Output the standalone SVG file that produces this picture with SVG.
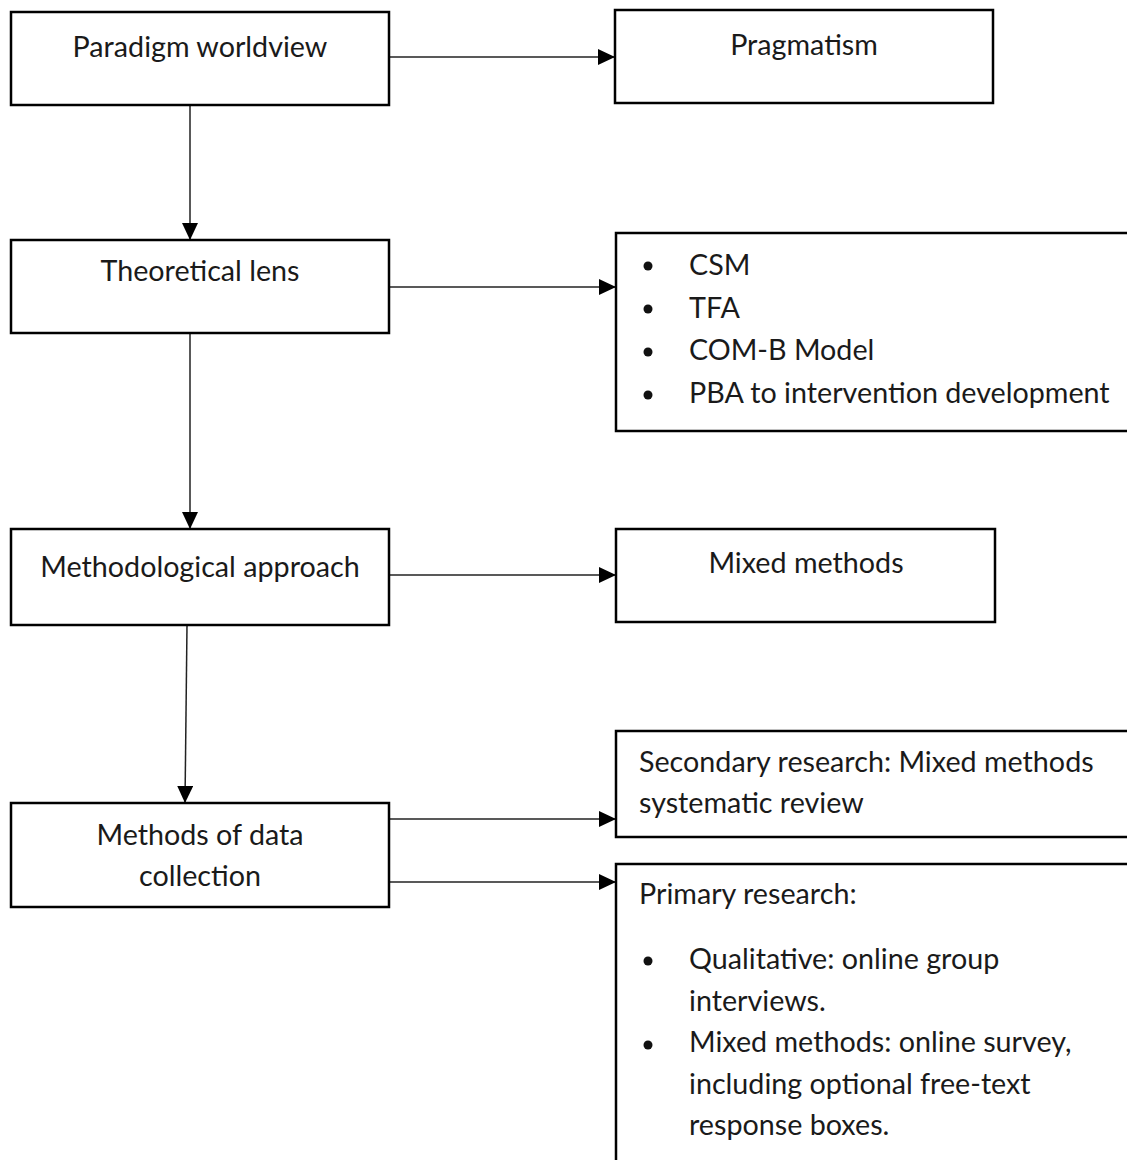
<svg xmlns="http://www.w3.org/2000/svg" width="1127" height="1160" viewBox="0 0 1127 1160">
  <style>
    .box { fill: #ffffff; stroke: #000000; stroke-width: 2.5; }
    .lbl { font-family: Lato, "Liberation Sans", sans-serif; font-size: 28.7px; fill: #1a1a1a; }
    .mid { text-anchor: middle; }
    .link { stroke: #222222; stroke-width: 1.5; fill: none; marker-end: url(#arrow); }
    .dot { fill: #111111; }
  </style>
  <defs>
    <marker id="arrow" markerUnits="userSpaceOnUse" markerWidth="18" markerHeight="16" refX="17" refY="8" orient="auto">
      <path d="M0,0 L17,8 L0,16 Z" fill="#000000"/>
    </marker>
  </defs>
  <rect width="1127" height="1160" fill="#ffffff"/>

  <g id="connectors">
    <line class="link" x1="390" y1="57" x2="615" y2="57"/>
    <line class="link" x1="190" y1="105" x2="190" y2="240"/>
    <line class="link" x1="390" y1="287" x2="616" y2="287"/>
    <line class="link" x1="190" y1="333" x2="190" y2="529"/>
    <line class="link" x1="390" y1="575" x2="616" y2="575"/>
    <line class="link" x1="187" y1="625" x2="185" y2="803"/>
    <line class="link" x1="390" y1="819" x2="616" y2="819"/>
    <line class="link" x1="390" y1="882" x2="616" y2="882"/>
  </g>

  <g id="paradigm">
    <rect class="box" x="11" y="12" width="378" height="93"/>
    <text class="lbl mid" x="200" y="57">Paradigm worldview</text>
  </g>
  <g id="pragmatism">
    <rect class="box" x="615" y="10" width="378" height="93"/>
    <text class="lbl mid" x="804" y="55">Pragmatism</text>
  </g>

  <g id="theoretical-lens">
    <rect class="box" x="11" y="240" width="378" height="93"/>
    <text class="lbl mid" x="200" y="281">Theoretical lens</text>
  </g>
  <g id="theories">
    <rect class="box" x="616" y="233" width="520" height="198"/>
    <circle class="dot" cx="648" cy="266" r="4.5"/>
    <circle class="dot" cx="648" cy="309" r="4.5"/>
    <circle class="dot" cx="648" cy="352" r="4.5"/>
    <circle class="dot" cx="648" cy="395" r="4.5"/>
    <text class="lbl" x="689" y="275">CSM</text>
    <text class="lbl" x="689" y="318">TFA</text>
    <text class="lbl" x="689" y="360">COM-B Model</text>
    <text class="lbl" x="689" y="403">PBA to intervention development</text>
  </g>

  <g id="methodology">
    <rect class="box" x="11" y="529" width="378" height="96"/>
    <text class="lbl mid" x="200" y="577">Methodological approach</text>
  </g>
  <g id="mixed-methods">
    <rect class="box" x="616" y="529" width="379" height="93"/>
    <text class="lbl mid" x="806" y="573">Mixed methods</text>
  </g>

  <g id="data-collection">
    <rect class="box" x="11" y="803" width="378" height="104"/>
    <text class="lbl mid" x="200" y="845">Methods of data</text>
    <text class="lbl mid" x="200" y="886">collection</text>
  </g>
  <g id="secondary">
    <rect class="box" x="616" y="731" width="520" height="106"/>
    <text class="lbl" x="639" y="772">Secondary research: Mixed methods</text>
    <text class="lbl" x="639" y="813">systematic review</text>
  </g>
  <g id="primary">
    <rect class="box" x="616" y="864" width="520" height="310"/>
    <text class="lbl" x="639" y="904">Primary research:</text>
    <circle class="dot" cx="648" cy="961" r="4.5"/>
    <circle class="dot" cx="648" cy="1045" r="4.5"/>
    <text class="lbl" x="689" y="969">Qualitative: online group</text>
    <text class="lbl" x="689" y="1011">interviews.</text>
    <text class="lbl" x="689" y="1052">Mixed methods: online survey,</text>
    <text class="lbl" x="689" y="1094">including optional free-text</text>
    <text class="lbl" x="689" y="1135">response boxes.</text>
  </g>
</svg>
